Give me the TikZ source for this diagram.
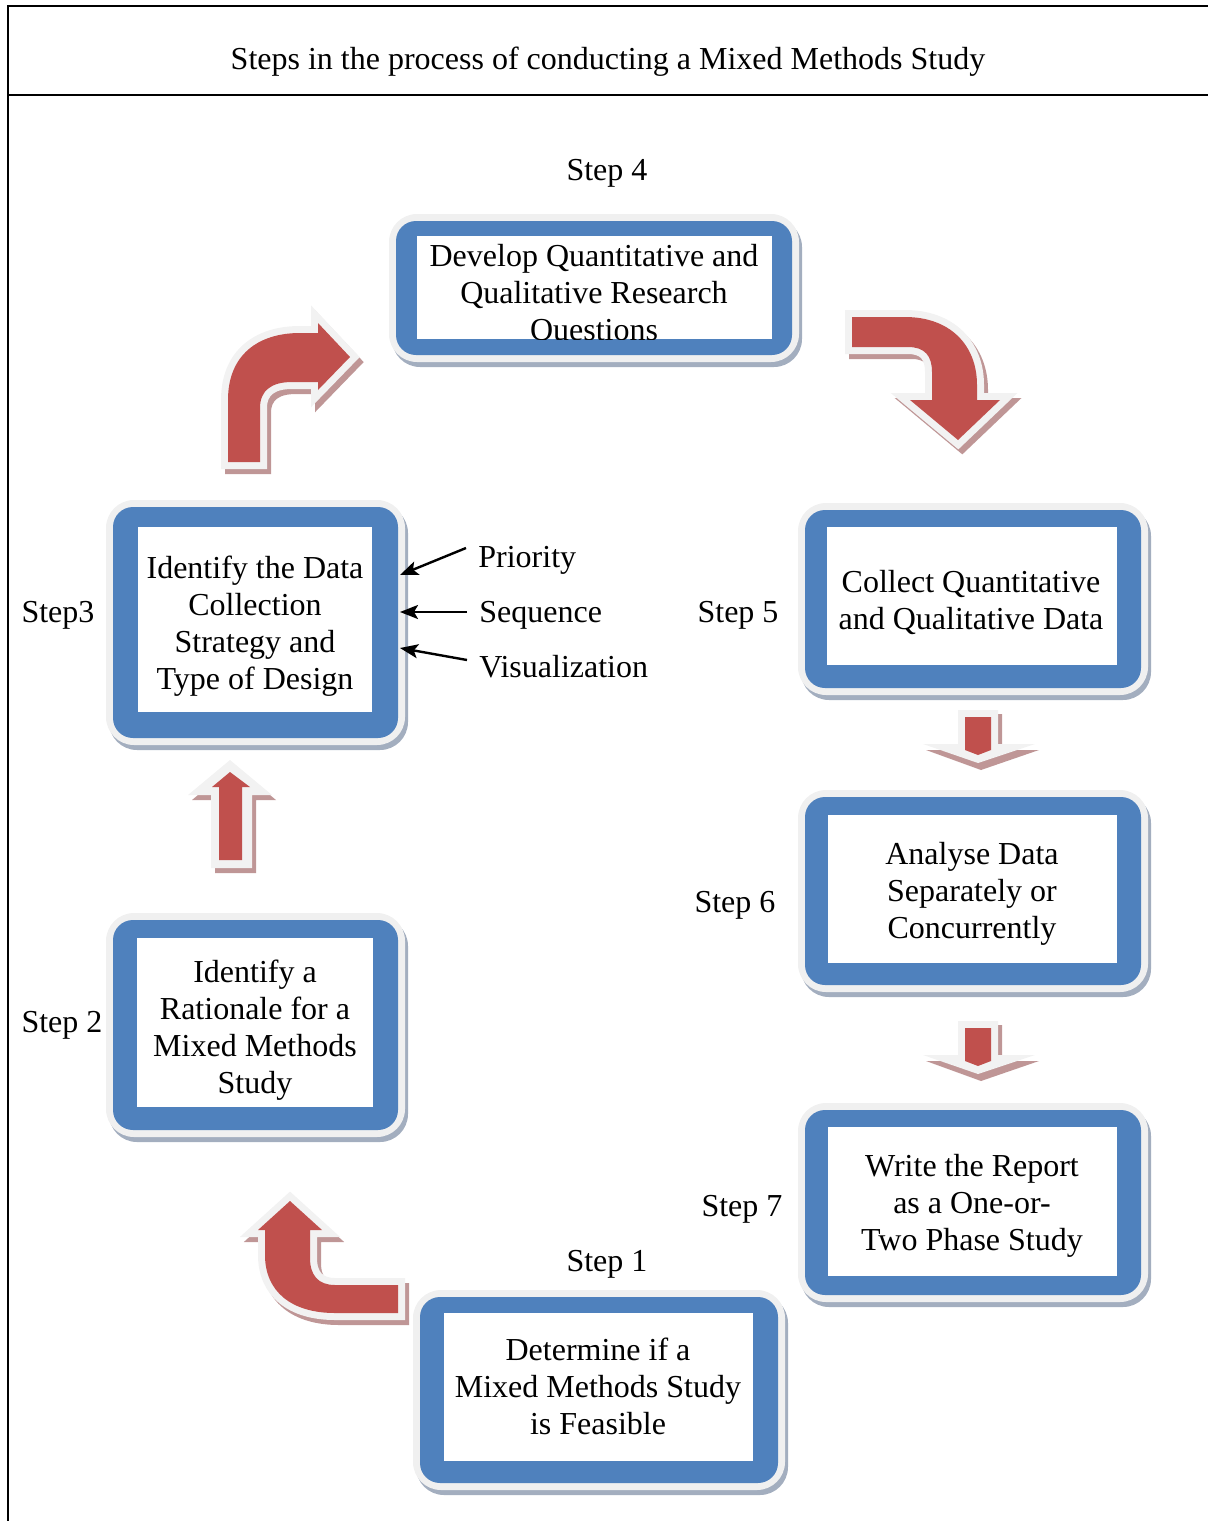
\documentclass[tikz,border=0pt]{standalone}
\usepackage{fontspec}
\setmainfont{Liberation Serif}
\usetikzlibrary{arrows.meta}
\definecolor{boxblue}{HTML}{4F81BD}
\definecolor{boxlight}{HTML}{F0F0F0}
\definecolor{boxshade}{HTML}{A3AEBF}
\definecolor{arrred}{HTML}{C0504D}
\definecolor{arrlight}{HTML}{F2F2F2}
\definecolor{arrshade}{HTML}{BF9696}
\newcommand\mmfont{\fontsize{16}{18.5}\selectfont}
% bx1 by1 bx2 by2 wx1 wy1 wx2 wy2
\newcommand\mmframe[8]{%
 \fill[boxshade,rounded corners=14pt] (#1-7+3,#2-7+5) rectangle (#3+7+3,#4+7+5);
 \fill[boxlight,rounded corners=14pt] (#1-7,#2-7) rectangle (#3+7,#4+7);
 \fill[boxblue,rounded corners=10pt] (#1,#2) rectangle (#3,#4);
 \fill[white] (#5,#6) rectangle (#7,#8);
}
\tikzset{
  boxtext/.style={align=center,font=\mmfont,inner sep=0pt,yshift=-1.5pt},
  lbl/.style={font=\mmfont,inner sep=0pt,yshift=-1.5pt},
  thinarrow/.style={-{Stealth[length=9pt,width=7pt,inset=2pt]},line width=1.2pt,black},
  blockarrow/.style={fill=arrred,
    preaction={draw=arrshade,fill=arrshade,line width=7pt,line join=miter,
               transform canvas={xshift=2pt,yshift=-2.5pt}},
    preaction={draw=arrlight,fill=arrlight,line width=7pt,line join=miter}},
}
\begin{document}
\begin{tikzpicture}[x=0.5pt,y=-0.5pt]
\useasboundingbox (0,0) rectangle (1207,1521);
% frame
\draw[line width=1pt] (1220,6) -- (8,6) -- (8,1530);
\draw[line width=1pt] (8,95) -- (1220,95);
\node[lbl] (title) at (608,59) {Steps in the process of conducting a Mixed Methods Study};

% step labels
\node[lbl] (l4) at (607,170) {Step 4};
\node[lbl] (l3) at (58,612) {Step3};
\node[lbl] (l5) at (738,612) {Step 5};
\node[lbl] (l6) at (735,902) {Step 6};
\node[lbl] (l2) at (62,1022) {Step 2};
\node[lbl] (l7) at (742,1206) {Step 7};
\node[lbl] (l1) at (607,1261) {Step 1};

% Step 4 box
\mmframe{396}{221}{792}{355}{417}{236}{772}{339}
\begin{scope}
\clip (417,236) rectangle (772,339);
\node[boxtext] (s4) at (594,292) {Develop Quantitative and\\Qualitative Research\\Questions};
\end{scope}

% Step 3 box
\mmframe{113}{507}{398}{738}{138}{527}{372}{712}
\node[boxtext] (s3) at (255,623) {Identify the Data\\Collection\\Strategy and\\Type of Design};

% Step 5 box
\mmframe{805}{510}{1141}{688}{827}{527}{1117}{665}
\node[boxtext] (s5) at (971,599) {Collect Quantitative\\and Qualitative Data};

% Step 6 box
\mmframe{805}{797}{1141}{985}{828}{815}{1117}{963}
\node[boxtext] (s6) at (972,891) {Analyse Data\\Separately or\\Concurrently};

% Step 7 box
\mmframe{805}{1110}{1141}{1295}{828}{1127}{1117}{1276}
\node[boxtext] (s7) at (972,1203) {Write the Report\\as a One-or-\\Two Phase Study};

% Step 2 box
\mmframe{113}{920}{398}{1130}{137}{938}{373}{1107}
\node[boxtext] (s2) at (255,1027) {Identify a\\Rationale for a\\Mixed Methods\\Study};

% Step 1 box
\mmframe{420}{1297}{778}{1483}{444}{1313}{753}{1461}
\node[boxtext] (s1) at (598,1383) {Determine if a\\Mixed Methods Study\\is Feasible};

% side labels and thin arrows
\node[lbl,anchor=west] (pri) at (478,557) {Priority};
\node[lbl,anchor=west] (seq) at (479,612) {Sequence};
\node[lbl,anchor=west] (vis) at (479,664) {Visualization};
\coordinate (e1) at (400,575);
\coordinate (e2) at (400,612);
\coordinate (e3) at (400,648);
\draw[thinarrow] ([xshift=-6pt,yshift=6pt]pri.west) -- (e1);
\draw[thinarrow] ([xshift=-6pt,yshift=1.5pt]seq.west) -- (e2);
\draw[thinarrow] ([xshift=-6pt,yshift=3.5pt]vis.west) -- (e3);

% block arrow: step 3 -> step 4
\path[blockarrow] (228,462) -- (228,400) .. controls (228,355) and (258,333) .. (300,333)
  -- (318,333) -- (318,323) -- (350,357) -- (318,390) -- (318,382) -- (292,382)
  .. controls (272,382) and (260,390) .. (260,408) -- (260,462) -- cycle;

% block arrow: step 4 -> step 5
\path[blockarrow] (852,317) -- (905,317) .. controls (950,317) and (977,345) .. (977,385)
  -- (977,400) -- (1000,400) -- (958,440) -- (910,400) -- (932,400) -- (932,372)
  .. controls (932,356) and (925,347) .. (908,347) -- (852,347) -- cycle;

% block arrow: step 1 -> step 2
\path[blockarrow] (398,1285) -- (335,1285) .. controls (318,1285) and (310,1275) .. (310,1258)
  -- (310,1230) -- (322,1230) -- (290,1201) -- (258,1230) -- (265,1230) -- (265,1255)
  .. controls (265,1292) and (292,1313) .. (335,1313) -- (398,1313) -- cycle;

% block arrow: step 2 -> step 3
\fill[arrshade] (215,873) -- (215,800) -- (192,800) -- (234,765) -- (276,800) -- (256,800) -- (256,873) -- cycle;
\fill[arrlight] (211,868) -- (211,795) -- (188,795) -- (230,760) -- (272,795) -- (252,795) -- (252,868) -- cycle;
\fill[arrred] (219,860) -- (219,787) -- (212,787) -- (230,772) -- (250,787) -- (242,787) -- (242,860) -- cycle;

% block arrows: step 5 -> 6 and step 6 -> 7
\foreach \dy in {0,311}{
\begin{scope}[shift={(0,\dy)}]
\fill[arrshade] (962,714) -- (1002,714) -- (1002,750) -- (1039,750) -- (981,770) -- (926,750) -- (962,750) -- cycle;
\fill[arrlight] (958,710) -- (998,710) -- (998,744) -- (1035,744) -- (978,763) -- (923,744) -- (958,744) -- cycle;
\fill[arrred] (965,717) -- (991,717) -- (991,750) -- (978,755) -- (965,750) -- cycle;
\end{scope}}
\end{tikzpicture}
\end{document}
